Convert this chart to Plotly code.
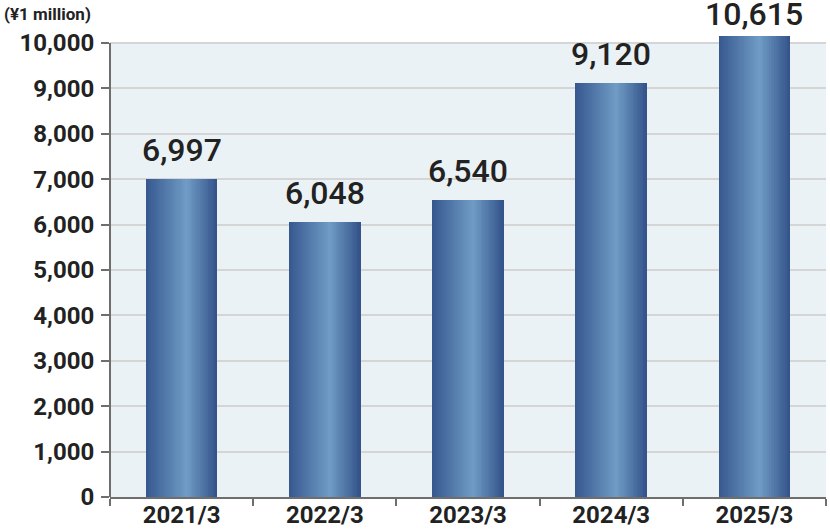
import plotly.graph_objects as go

categories = ["2021/3", "2022/3", "2023/3", "2024/3", "2025/3"]
values = [6997, 6048, 6540, 9120, 10615]
y_tickvals = list(range(0, 10001, 1000))
y_ticktext = [f"{v:,}" for v in y_tickvals]
unit_label = "(¥1 million)"

Y_TOP = 10155          # visible top of plot area (bars above are truncated)
AXIS_MAX = 10000       # end of framed axis
BAR_W = 0.5
N_SLICES = 40

dark_l = (0x36, 0x58, 0x8f)
light = (0x70, 0x9c, 0xc5)
dark_r = (0x32, 0x52, 0x89)
peak = 0.57

def grad(t):
    if t <= peak:
        a, b, f = dark_l, light, t / peak
    else:
        a, b, f = light, dark_r, (t - peak) / (1 - peak)
    c = [round(a[k] + (b[k] - a[k]) * f) for k in range(3)]
    return f"rgb({c[0]},{c[1]},{c[2]})"

fig = go.Figure()
step = BAR_W / N_SLICES
for i in range(N_SLICES):
    off = -BAR_W / 2 + i * step
    w = step * 1.25 if i < N_SLICES - 1 else step
    fig.add_trace(go.Bar(
        x=categories, y=values, offset=off, width=w,
        marker=dict(color=grad((i + 0.5) / N_SLICES), line=dict(width=0)),
        hoverinfo="skip", showlegend=False,
    ))

# data labels
for c, v in zip(categories, values):
    clipped = v > Y_TOP
    fig.add_annotation(
        x=c, y=min(v, Y_TOP), xref="x", yref="y", text=f"{v:,}",
        showarrow=False, yanchor="bottom", yshift=1 if clipped else 8,
        font=dict(family="Roboto", size=32, color="#222222", weight=500),
    )

# framed plot background and y-axis line up to 10,000
fig.add_shape(type="rect", xref="paper", yref="y", x0=0, x1=1, y0=0, y1=AXIS_MAX,
              fillcolor="#ebf2f5", line=dict(width=0), layer="below")
fig.add_shape(type="line", xref="paper", yref="y", x0=0, x1=0, y0=0, y1=AXIS_MAX,
              line=dict(color="#6e6e6e", width=2), layer="above")

fig.add_annotation(
    x=-108 / 716, y=1 + 22 / 461, xref="paper", yref="paper",
    xanchor="left", yanchor="middle",
    text=unit_label, showarrow=False,
    font=dict(family="Roboto", size=17, color="#222222", weight=700),
)

fig.update_layout(
    width=830, height=530,
    margin=dict(l=110, r=4, t=36, b=33, autoexpand=False),
    plot_bgcolor="white", paper_bgcolor="white",
    barmode="overlay", bargap=0,
    font=dict(family="Roboto", color="#222222"),
    xaxis=dict(
        type="category", showline=True, linecolor="#6e6e6e", linewidth=2,
        ticks="outside", tickson="boundaries", ticklen=7, tickwidth=2, tickcolor="#6e6e6e",
        showgrid=False, tickfont=dict(family="Roboto", size=24, color="#222222", weight=700),
        ticklabelstandoff=-5,
        range=[-0.5, 4.5], fixedrange=True, automargin=False,
    ),
    yaxis=dict(
        range=[0, Y_TOP], tickvals=y_tickvals, ticktext=y_ticktext,
        showline=False, ticks="outside", ticklen=8, tickwidth=2, tickcolor="#6e6e6e",
        showgrid=True, gridcolor="#d5d5d5", gridwidth=2, zeroline=False,
        tickfont=dict(family="Roboto", size=24, color="#222222", weight=700),
        ticklabelstandoff=2,
        fixedrange=True, automargin=False,
    ),
)

fig.write_html("out.html", config={"displayModeBar": False},
               post_script="document.body.style.margin='0px';document.body.style.overflow='hidden';")
